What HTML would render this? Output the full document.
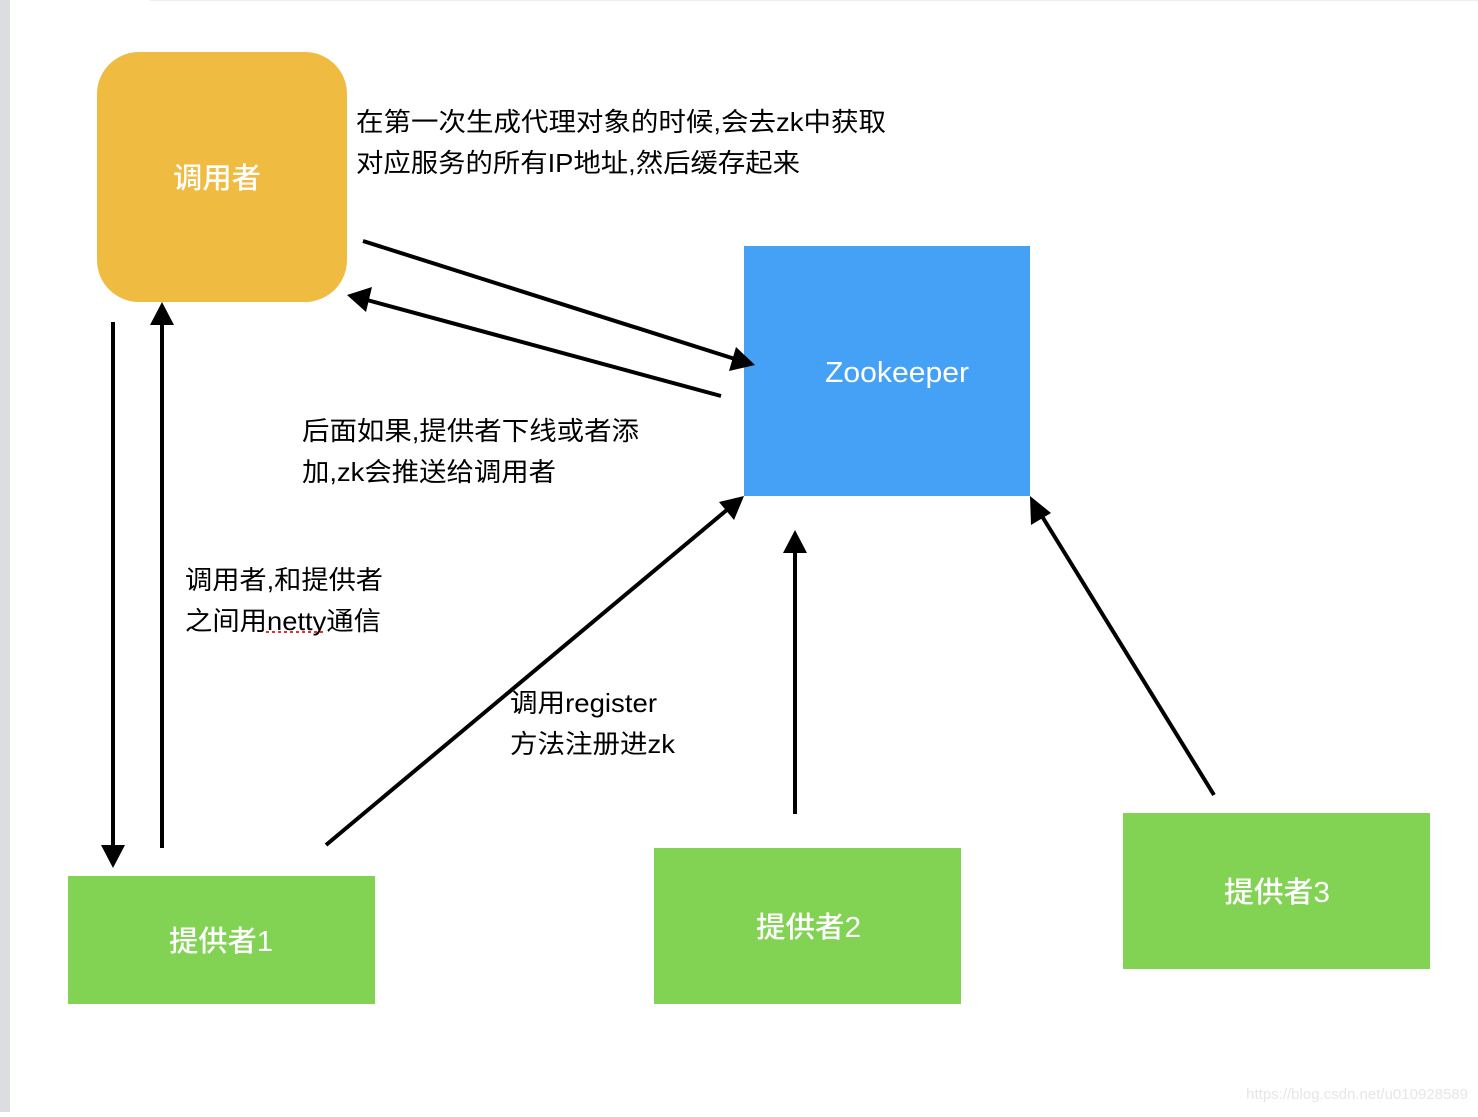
<!DOCTYPE html>
<html><head><meta charset="utf-8"><style>
html,body{margin:0;padding:0;background:#fff;}
svg text{font-family:"Liberation Sans","Noto Sans CJK SC",sans-serif;}
</style></head><body>
<svg width="1478" height="1112" viewBox="0 0 1478 1112" xmlns="http://www.w3.org/2000/svg">
<rect x="0" y="0" width="10" height="1112" fill="#dcdde1"/>
<rect x="150" y="0" width="1328" height="1" fill="#eee"/>
<rect x="97" y="52" width="250" height="250" rx="42" fill="#efbb40"/>
<text x="173" y="188" font-size="29" font-weight="500" fill="#fff" textLength="88" lengthAdjust="spacingAndGlyphs">调用者</text>
<rect x="744" y="246" width="286" height="250" fill="#44a1f6"/>
<text x="825" y="382" font-size="29" font-weight="500" fill="#fff" textLength="144" lengthAdjust="spacingAndGlyphs">Zookeeper</text>
<rect x="68" y="876" width="307" height="128" fill="#82d354"/>
<text x="169" y="951" font-size="29" font-weight="500" fill="#fff" textLength="104" lengthAdjust="spacingAndGlyphs">提供者1</text>
<rect x="654" y="848" width="307" height="156" fill="#82d354"/>
<text x="756" y="937" font-size="29" font-weight="500" fill="#fff" textLength="105" lengthAdjust="spacingAndGlyphs">提供者2</text>
<rect x="1123" y="813" width="307" height="156" fill="#82d354"/>
<text x="1224" y="902" font-size="29" font-weight="500" fill="#fff" textLength="106" lengthAdjust="spacingAndGlyphs">提供者3</text>
<g stroke="#000" stroke-width="4" fill="none">
<line x1="363" y1="241" x2="735" y2="359"/>
<line x1="721" y1="396" x2="367" y2="300"/>
<line x1="113" y1="322" x2="113" y2="848"/>
<line x1="162" y1="848" x2="162" y2="322"/>
<line x1="326" y1="845" x2="728" y2="509"/>
<line x1="795" y1="814" x2="795" y2="550"/>
<line x1="1214" y1="795" x2="1040" y2="513"/>
</g>
<g fill="#000">
<polygon points="755,365 729,371 736,347"/>
<polygon points="347,295 372,287 366,312"/>
<polygon points="113,868 101,845 125,845"/>
<polygon points="162,302 150,325 174,325"/>
<polygon points="744,496 734,520 719,502"/>
<polygon points="795,530 783,553 807,553"/>
<polygon points="1030,496 1051,513 1031,525"/>
</g>
<g font-size="26" fill="#000">
<text x="356" y="131" textLength="530" lengthAdjust="spacingAndGlyphs">在第一次生成代理对象的时候,会去zk中获取</text>
<text x="356" y="172" textLength="444" lengthAdjust="spacingAndGlyphs">对应服务的所有IP地址,然后缓存起来</text>
<text x="302" y="440" textLength="337" lengthAdjust="spacingAndGlyphs">后面如果,提供者下线或者添</text>
<text x="302" y="481" textLength="254" lengthAdjust="spacingAndGlyphs">加,zk会推送给调用者</text>
<text x="185" y="589" textLength="198" lengthAdjust="spacingAndGlyphs">调用者,和提供者</text>
<text x="185" y="630" textLength="196" lengthAdjust="spacingAndGlyphs">之间用netty通信</text>
<text x="510" y="712" textLength="147" lengthAdjust="spacingAndGlyphs">调用register</text>
<text x="510" y="753" textLength="165" lengthAdjust="spacingAndGlyphs">方法注册进zk</text>
</g>
<line x1="266" y1="632" x2="326" y2="632" stroke="#e03030" stroke-width="2" stroke-dasharray="3,3"/>
<text x="1468" y="1099" font-size="15" fill="#e6e6e6" text-anchor="end">https://blog.csdn.net/u010928589</text>
</svg>
</body></html>
